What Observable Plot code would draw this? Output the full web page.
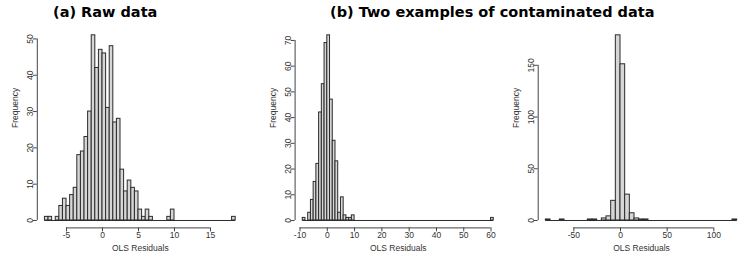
<!DOCTYPE html>
<html>
<head>
<meta charset="utf-8">
<script src="https://cdn.jsdelivr.net/npm/d3@7"></script>
<script src="https://cdn.jsdelivr.net/npm/@observablehq/plot@0.6"></script>
<style>
  html, body { margin: 0; padding: 0; background: #fff; }
  #wrap { position: relative; width: 747px; height: 259px; overflow: hidden; background: #fff; }
  .title { position: absolute; top: 5px; font-family: "DejaVu Sans", Verdana, sans-serif; font-weight: bold; font-size: 14.5px; line-height: 14.5px; color: #000; white-space: nowrap; }
  .panel { position: absolute; top: 0; }
</style>
</head>
<body>
<div id="wrap">
  <div class="title" style="left:53px">(a) Raw data</div>
  <div class="title" style="left:330px">(b) Two examples of contaminated data</div>
</div>
<script>
// ---------- data ----------
// Panel (a): raw data, bins of width 0.5 starting at -8
const aBinStart = -8;
const aBinWidth = 0.5;
const aCounts = [1, 1, 0, 1, 4, 6, 4, 7, 9, 18, 19, 23, 30, 51, 42, 47, 46, 31, 48, 27, 28, 14, 8, 11, 9, 8, 3, 1, 3, 1,
                 0, 0, 0, 0, 1, 3, 0, 0, 0, 0, 0, 0, 0, 0, 0, 0, 0, 0, 0, 0, 0, 0, 1];
const aXTicks = [-5, 0, 5, 10, 15];
const aYTicks = [0, 10, 20, 30, 40, 50];

// Panel (b1): contaminated data, bins of width 1 starting at -9
const bBinStart = -9;
const bBinWidth = 1;
const bCounts = [1, 0, 3, 8, 15, 22, 42, 53, 69, 72, 47, 31, 23, 3, 9, 2, 1, 1, 2,
                 0, 0, 0, 0, 0, 0, 0, 0, 0, 0, 0, 0, 0, 0, 0, 0, 0, 0, 0, 0, 0, 0, 0, 0, 0, 0, 0, 0, 0, 0,
                 0, 0, 0, 0, 0, 0, 0, 0, 0, 0, 0, 0, 0, 0, 0, 0, 0, 0, 0, 0, 1];
const bXTicks = [-10, 0, 10, 20, 30, 40, 50, 60];
const bYTicks = [0, 10, 20, 30, 40, 50, 60, 70];

// Panel (b2): contaminated data, bins of width 5 starting at -80
const cBinStart = -80;
const cBinWidth = 5;
const cCounts = [1, 0, 0, 1, 0, 0, 0, 0, 0, 1, 1, 0, 2, 4, 19, 179, 151, 25, 7, 2, 1, 1,
                 0, 0, 0, 0, 0, 0, 0, 0, 0, 0, 0, 0, 0, 0, 0, 0, 0, 0, 1];
const cXTicks = [-50, 0, 50, 100];
const cYTicks = [0, 50, 100, 150];

const xLabel = "OLS Residuals";
const yLabel = "Frequency";

// ---------- drawing ----------
function bins(start, width, counts) {
  return counts.map((n, i) => ({x1: start + i * width, x2: start + (i + 1) * width, n}));
}

function panel({start, width, counts, xTicks, yTicks, left, w, mLeft, mRight}) {
  const data = bins(start, width, counts);
  const lo = data[0].x1, hi = data[data.length - 1].x2;
  const ext = (hi - lo) * 0.04;
  const xlim = [lo - ext, hi + ext];
  const ymax = d3.max(counts);
  const ylim = [-ymax * 0.04, ymax * 1.04];
  const fmt = d => String(d);
  const p = Plot.plot({
    width: w,
    height: 259,
    marginTop: 27.4,
    marginBottom: 31.6,
    marginLeft: mLeft,
    marginRight: mRight,
    x: {domain: xlim},
    y: {domain: ylim},
    style: {fontFamily: "'Liberation Sans', Arial, sans-serif", fontSize: "8.5px", color: "#333", background: "transparent", overflow: "visible"},
    marks: [
      Plot.rectY(data.filter(d => d.n > 0), {x1: "x1", x2: "x2", y1: 0, y2: "n", fill: "#d6d6d6", stroke: "#2b2b2b", strokeWidth: 1}),
      Plot.ruleY([0], {x1: lo, x2: hi, stroke: "#2b2b2b", strokeWidth: 1}),
      Plot.ruleY([ylim[0]], {x1: xTicks[0], x2: xTicks[xTicks.length - 1], stroke: "#444"}),
      Plot.axisX({ticks: xTicks, tickSize: 4, tickPadding: 0, tickFormat: fmt, label: null, stroke: "#444", fill: "#333"}),
      Plot.ruleX([xlim[0]], {y1: yTicks[0], y2: yTicks[yTicks.length - 1], stroke: "#444"}),
      Plot.axisY({ticks: yTicks, tickSize: 4, tickPadding: 0, tickRotate: -90, tickFormat: fmt, label: null, stroke: "#444", fill: "#333"}),
      Plot.text([yLabel], {text: d => d, frameAnchor: "left", rotate: -90, dx: -22, lineAnchor: "middle", fill: "#333"}),
      Plot.text([xLabel], {text: d => d, frameAnchor: "bottom", dy: 20.6, lineAnchor: "middle", fill: "#333"})
    ]
  });
  p.classList.add("panel");
  p.style.left = left + "px";
  return p;
}

const wrap = document.getElementById("wrap");
wrap.appendChild(panel({start: aBinStart, width: aBinWidth, counts: aCounts, xTicks: aXTicks, yTicks: aYTicks, left: 0, w: 250, mLeft: 36.8, mRight: 7.2}));
wrap.appendChild(panel({start: bBinStart, width: bBinWidth, counts: bCounts, xTicks: bXTicks, yTicks: bYTicks, left: 250, w: 252, mLeft: 44.6, mRight: 1.1}));
wrap.appendChild(panel({start: cBinStart, width: cBinWidth, counts: cCounts, xTicks: cXTicks, yTicks: cYTicks, left: 500, w: 247, mLeft: 37.7, mRight: 2.7}));
</script>
</body>
</html>
